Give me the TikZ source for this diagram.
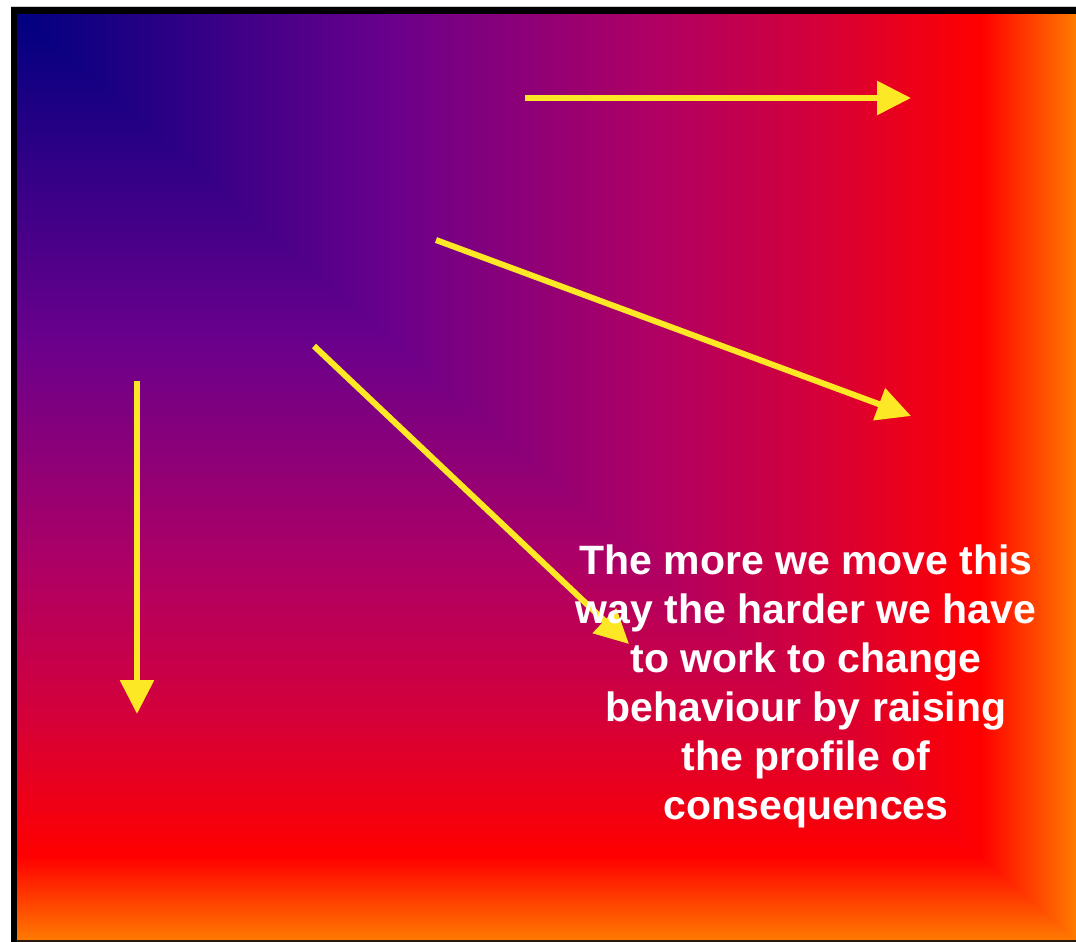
\documentclass[tikz,border=0pt]{standalone}
\usepackage{fontspec}
\setmainfont{Liberation Sans}
\usetikzlibrary{arrows.meta}
\definecolor{c0}{RGB}{0,0,128}
\definecolor{c1}{RGB}{105,0,140}
\definecolor{c2}{RGB}{175,0,100}
\definecolor{c3}{RGB}{210,0,60}
\definecolor{c4}{RGB}{255,0,0}
\definecolor{c5}{RGB}{255,122,0}
\definecolor{arrowyellow}{RGB}{253,232,37}
\pgfdeclarehorizontalshading{hgrad}{100bp}{color(0bp)=(c0); color(25bp)=(c0); color(42.5bp)=(c1); color(55bp)=(c2); color(62.5bp)=(c3); color(70.5bp)=(c4); color(75bp)=(c5); color(100bp)=(c5)}
\pgfdeclareverticalshading{vgrad}{100bp}{color(0bp)=(c5); color(25bp)=(c5); color(29.5bp)=(c4); color(37.5bp)=(c3); color(45bp)=(c2); color(57.5bp)=(c1); color(75bp)=(c0); color(100bp)=(c0)}
\tikzset{
  yarrow/.style={draw=arrowyellow, line width=6pt, -{Triangle[width=33pt,length=34pt]}, fill=arrowyellow},
  msg/.style={align=center, text=white, font={\fontsize{41}{49}\selectfont\bfseries}, inner sep=0pt}
}
\begin{document}
\begin{tikzpicture}[x=1pt,y=-1pt]
\useasboundingbox (0,0) rectangle (1076,942);
\fill[white] (0,0) rectangle (1076,942);
% gradient: vertical part over the whole box, horizontal part over the upper-right triangle
\shade[shading=vgrad] (17,14) rectangle (1076,940);
\begin{scope}
  \clip (17,14) -- (1076,14) -- (1076,940) -- cycle;
  \shade[shading=hgrad] (17,14) rectangle (1076,940);
\end{scope}
% frame
\fill[gray!40] (11,6.5) rectangle (1076,7.5);
\fill[black] (11,7.3) rectangle (1076,14);
\fill[black] (11,7.3) rectangle (17,942);
\fill[black!80!brown] (17,940) rectangle (1076,942);
% arrows
\coordinate (a1s) at (525,98);
\coordinate (a1e) at (911,98);
\coordinate (a2s) at (436,240);
\coordinate (a2e) at (911,416);
\coordinate (a3s) at (314,346);
\coordinate (a3e) at (629,644);
\coordinate (a4s) at (137,381);
\coordinate (a4e) at (137,714);
\draw[yarrow] (a1s) -- (a1e);
\draw[yarrow] (a2s) -- (a2e);
\draw[yarrow] (a3s) -- (a3e);
\draw[yarrow] (a4s) -- (a4e);
% text (base anchor = baseline of last line)
\node[msg, anchor=base] (txt) at (806,819) {The more we move this\\way the harder we have\\to work to change\\behaviour by raising\\the profile of\\consequences};
\end{tikzpicture}
\end{document}
